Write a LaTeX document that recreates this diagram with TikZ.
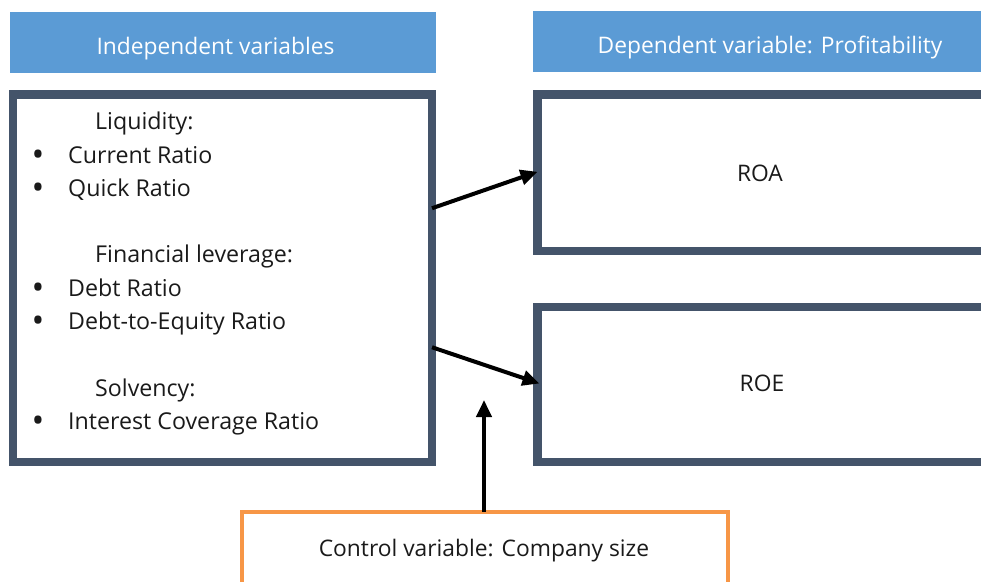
\documentclass[tikz,border=0pt]{standalone}
\usepackage{fontspec}
\setmainfont{Open Sans}
\usetikzlibrary{arrows.meta,calc}
\definecolor{hdr}{HTML}{5B9BD5}
\definecolor{bdr}{HTML}{44546A}
\definecolor{org}{HTML}{F79646}
\definecolor{txt}{HTML}{1A1A1A}
\begin{document}
\begin{tikzpicture}[x=1pt,y=-1pt,
  hdrbox/.style={fill=hdr,draw=none},
  frame/.style={draw=bdr,line width=8.5pt,fill=white},
  ctrl/.style={draw=org,line width=4pt,fill=white},
  lbl/.style={anchor=base west,inner sep=0pt,text=txt,font=\fontsize{23.2}{26}\selectfont},
  bul/.style={anchor=base west,inner sep=0pt,text=txt,font=\fontsize{34}{34}\selectfont},
  clbl/.style={anchor=base,inner sep=0pt,text=txt,font=\fontsize{22.8}{26}\selectfont},
  conn/.style={line width=4pt,-{Triangle[length=17pt,width=15pt]}}]
\useasboundingbox (0,0) rectangle (981,581);
\clip (0,0) rectangle (981,581);
% headers
\node[hdrbox,minimum width=426pt,minimum height=61pt,inner sep=0pt] (hind) at (223,42.5) {};
\node[clbl,text=white] (tind) at (215.5,54) {Independent variables};
\node[hdrbox,minimum width=460pt,minimum height=61pt,inner sep=0pt] (hdep) at (763,41.5) {};
\node[clbl,text=white] (tdep) at (770,53) {Dependent variable: Profitability};
% boxes
\node[frame,minimum width=419pt,minimum height=367.5pt,inner sep=0pt,outer sep=0pt] (ind) at (222.5,278.25) {};
\node[frame,minimum width=460pt,minimum height=156.5pt,inner sep=0pt,outer sep=0pt] (roa) at (767.5,172.75) {};
\node[frame,minimum width=460pt,minimum height=155pt,inner sep=0pt,outer sep=0pt] (roe) at (767.5,384.5) {};
\node[ctrl,minimum width=486pt,minimum height=90pt,inner sep=0pt,outer sep=0pt] (ctl) at (485,557) {};
% texts
\node[lbl] (l1) at (95,129) {Liquidity:};
\node[bul] (b1) at (31.5,166) {•};
\node[lbl] (t1) at (68,163) {Current Ratio};
\node[bul] (b2) at (31.5,199) {•};
\node[lbl] (t2) at (68,196) {Quick Ratio};
\node[lbl] (l2) at (95,262) {Financial leverage:};
\node[bul] (b3) at (31.5,299) {•};
\node[lbl] (t3) at (68,296) {Debt Ratio};
\node[bul] (b4) at (31.5,332) {•};
\node[lbl] (t4) at (68,329) {Debt-to-Equity Ratio};
\node[lbl] (l3) at (95,396) {Solvency:};
\node[bul] (b5) at (31.5,432) {•};
\node[lbl] (t5) at (68,429) {Interest Coverage Ratio};
\node[clbl] (troa) at (760,181) {ROA};
\node[clbl] (troe) at (762,391) {ROE};
\node[clbl] (tctl) at (484,556) {Control variable: Company size};
% connectors
\coordinate (s1) at ($(ind.east)+(0,-70)$);
\coordinate (e1) at ($(roa.west)+(0,-1)$);
\coordinate (s2) at ($(ind.east)+(0,69)$);
\coordinate (e2) at ($(roe.west)+(2,-1)$);
\coordinate (e3) at (484,400);
\draw[conn] (s1) -- (e1);
\draw[conn] (s2) -- (e2);
\draw[conn] (ctl.north -| e3) -- (e3);
\end{tikzpicture}
\end{document}
